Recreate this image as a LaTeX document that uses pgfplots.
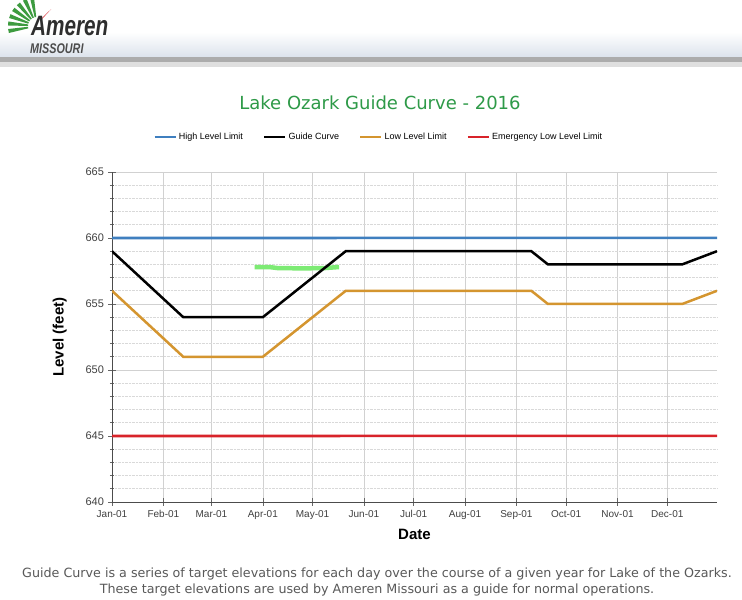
\documentclass[border=0pt]{standalone}
\usepackage{pgfplots}
\pgfplotsset{compat=1.18}
\usepackage{fontspec}
\setmainfont{Liberation Sans}
\newfontfamily\dejavu{DejaVu Sans}
\definecolor{hiblue}{HTML}{3F7FBF}
\definecolor{loorange}{HTML}{D4952F}
\definecolor{emred}{HTML}{D8232A}
\definecolor{titlegreen}{HTML}{2E9A48}
\definecolor{marker}{HTML}{7DEB74}
\definecolor{logogreen}{HTML}{3D9B3F}
\definecolor{hdr}{HTML}{DCE3EC}
\begin{document}
\begin{tikzpicture}[x=1pt,y=1pt]
% canvas
\fill[white] (0,0) rectangle (742,600);
\useasboundingbox (0,0) rectangle (742,600);
% header
\shade[top color=white, bottom color=hdr] (0,543) rectangle (742,568);
\fill[gray!65] (0,538) rectangle (742,543);
\fill[gray!25] (0,533) rectangle (742,538);
% logo emblem
\begin{scope}[shift={(37,574)}]
\foreach \a in {100,115,130,145,160,175,190}{
  \fill[logogreen] (\a-5:9) -- (\a-4:29) arc[start angle=\a-4,end angle=\a+4,radius=29] -- (\a+5:9) -- cycle;
}
\fill[emred] (54:9) -- (50:22) -- (58:9) -- cycle;
\end{scope}
\node[anchor=base west, inner sep=0, text=black!82] at (31,564) {\scalebox{0.74}[1]{\fontsize{28}{28}\selectfont\bfseries\itshape Ameren}};
\node[anchor=base west, inner sep=0, text=black!70] at (30,546) {\scalebox{0.77}[1]{\fontsize{14}{14}\selectfont\bfseries\itshape MISSOURI}};
% title
\node[text=titlegreen] at (380,497) {\dejavu\fontsize{18}{20}\selectfont Lake Ozark Guide Curve - 2016};
% caption
\node[text=black!65, align=center, font=\dejavu\fontsize{12.7}{16}\selectfont] at (377,18) {Guide Curve is a series of target elevations for each day over the course of a given year for Lake of the Ozarks.\\ These target elevations are used by Ameren Missouri as a guide for normal operations.};
\begin{axis}[
  at={(112pt,98pt)}, anchor=south west,
  scale only axis, width=605pt, height=330pt,
  xmin=0, xmax=365, ymin=640, ymax=665,
  axis x line*=bottom, axis y line*=left,
  axis line style={-, draw=black!70, line width=0.8pt},
  xtick={0,31,60,91,121,152,182,213,244,274,305,335},
  xticklabels={Jan-01,Feb-01,Mar-01,Apr-01,May-01,Jun-01,Jul-01,Aug-01,Sep-01,Oct-01,Nov-01,Dec-01},
  ytick={640,645,650,655,660,665},
  minor y tick num=4,
  xmajorgrids, ymajorgrids, yminorgrids,
  major grid style={black!18, line width=0.6pt},
  minor grid style={black!15, densely dotted, line width=0.6pt},
  tick align=center, major tick length=7pt, minor tick length=4pt,
  tick style={black!60, line width=0.6pt},
  xticklabel style={font=\fontsize{10}{12}\selectfont, text=black!75, yshift=-1pt},
  yticklabel style={font=\fontsize{11}{13}\selectfont, text=black!75, xshift=-1pt},
  /pgf/number format/assume math mode=true,
  xlabel={Date}, ylabel={Level (feet)},
  label style={font=\fontsize{15}{17}\selectfont\bfseries},
  xlabel style={yshift=-3pt},
  ylabel style={yshift=12pt},
  legend columns=4,
  legend style={at={(0.441,1.106)}, anchor=center, draw=none, fill=none,
    font=\fontsize{9}{11}\selectfont, /tikz/every even column/.append style={column sep=18pt}},
  legend image code/.code={\draw[#1] (0pt,0pt) -- (21pt,0pt);},
]
\addplot[marker, line width=4.5pt, forget plot] coordinates {(86,657.8) (95,657.8) (100,657.72) (115,657.7) (128,657.72) (137,657.8)};
\addplot[hiblue, line width=2.6pt] coordinates {(0,660) (365,660.01)};
\addlegendentry{High Level Limit}
\addplot[black, line width=2.5pt] coordinates {(0,659) (43,654) (91,654) (141,659) (253,659) (263,658) (344,658) (365,659)};
\addlegendentry{Guide Curve}
\addplot[loorange, line width=2.5pt] coordinates {(0,656) (43,651) (91,651) (141,656) (253,656) (263,655) (344,655) (365,656)};
\addlegendentry{Low Level Limit}
\addplot[emred, line width=2.6pt] coordinates {(0,645) (365,645.01)};
\addlegendentry{Emergency Low Level Limit}
\end{axis}
\end{tikzpicture}
\end{document}
